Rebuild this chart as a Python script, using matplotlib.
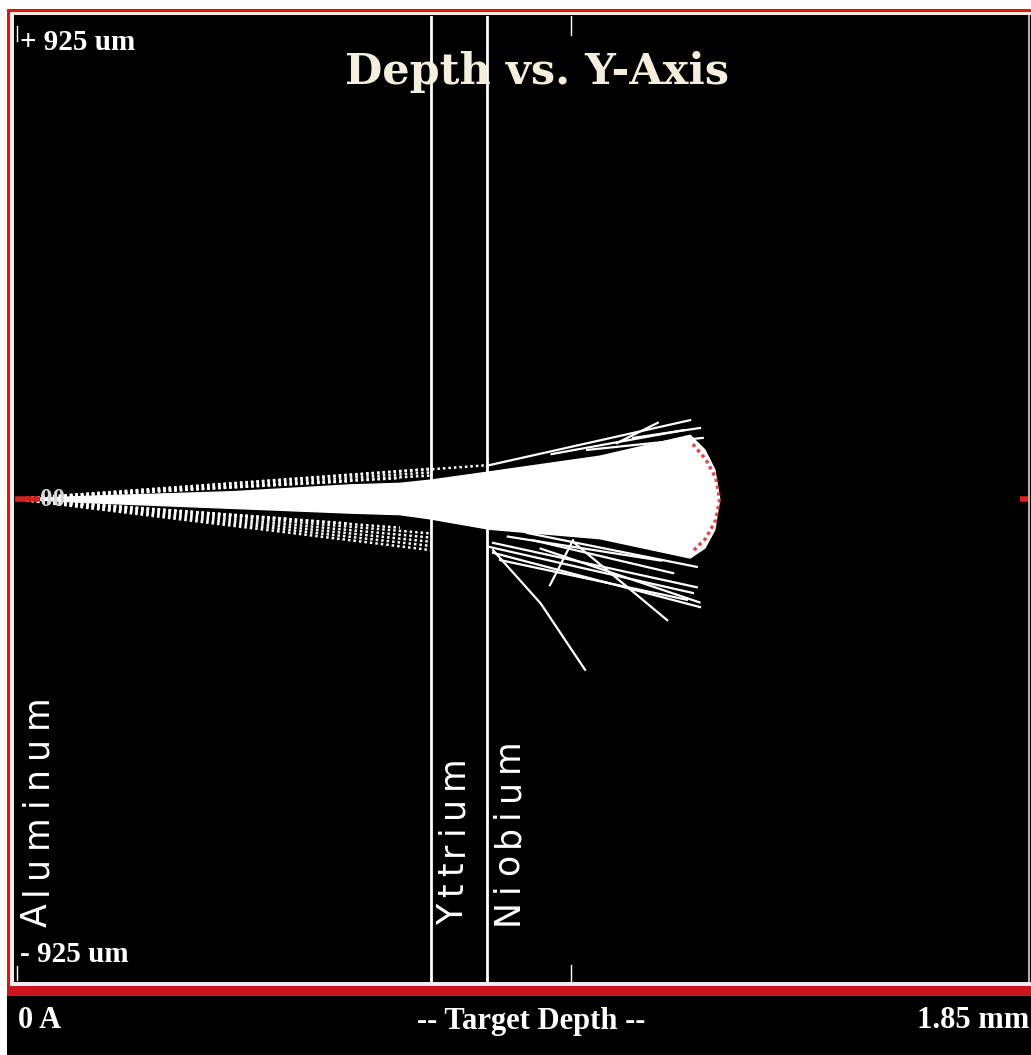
import numpy as np
import matplotlib.pyplot as plt
from matplotlib.patches import Rectangle, Polygon
from matplotlib.font_manager import FontProperties
from matplotlib.textpath import TextToPath

W, H = 1031, 1055

# target depth range (mm) and lateral half-width (um)
depth_max = 1.85
y_half = 925

layer_names = ['Aluminum', 'Yttrium', 'Niobium']
layer_starts = [0.0, 0.760, 0.862]
scale_tick = 1.015

# outline of the dense ion cloud: depth (mm) vs lateral position (um)
cloud_x = [0.0, 0.155, 0.398, 0.612, 0.703, 0.758, 0.867, 1.068, 1.233, 1.260, 1.278, 1.287]
cloud_top = [0, 6, 14, 27, 30, 36, 52, 82, 122, 94, 56, 0]
cloud_bot = [0, -8, -18, -27, -30, -38, -58, -76, -113, -94, -59, 0]

# dotted fringe tracks fanning out from the entry point (end depth, end y)
fringe_x = [0.867, 0.760, 0.760, 0.760, 0.703, 0.612,
            0.760, 0.760, 0.760, 0.760, 0.760, 0.703, 0.612, 0.500]
fringe_y = [65, 58, 51, 45, 40, 34,
            -98, -90, -82, -74, -66, -55, -47, -38]

# single scattered tracks, each a list of (depth mm, y um) points
stray_tracks = [
    [(0.867, 65), (1.233, 151)],
    [(1.099, 107), (1.174, 146)],
    [(1.129, 117), (1.251, 136)],
    [(1.045, 94), (1.256, 117)],
    [(0.980, 86), (1.222, 132)],
    [(0.873, -98), (0.960, -200), (1.041, -327)],
    [(0.977, -165), (1.019, -79)],
    [(1.019, -82), (1.191, -232)],
    [(0.873, -84), (1.245, -169)],
    [(0.873, -103), (1.251, -207)],
    [(0.886, -117), (1.227, -193)],
    [(0.935, -65), (1.245, -130)],
    [(0.946, -79), (1.202, -142)],
    [(0.867, -92), (1.238, -180)],
    [(0.900, -72), (1.180, -118)],
    [(0.960, -95), (1.250, -198)],
]

# reddish stopping edge around the cloud tip
tip_x = [1.238, 1.262, 1.280, 1.287, 1.280, 1.262, 1.238]
tip_y = [105, 75, 40, 0, -40, -75, -100]


def px_rect(fig, x0, y0, x1, y1, color):
    fig.add_artist(Rectangle((x0 / W, 1 - y1 / H), (x1 - x0) / W, (y1 - y0) / H,
                             transform=fig.transFigure, color=color, lw=0, zorder=0))


def spaced_vertical(fig, x_px, y_px, text, size, gap):
    # letters stacked bottom-to-top with extra spacing between them
    fp = FontProperties(family='DejaVu Sans', size=size)
    t2p = TextToPath()
    y = y_px
    for ch in text:
        w = t2p.get_text_width_height_descent(ch, fp, ismath=False)[0] * 100 / 72
        fig.text(x_px / W, 1 - (y - w / 2) / H, ch, rotation=90, ha='center', va='center',
                 color='white', fontproperties=fp, zorder=5)
        y -= w + gap


fig = plt.figure(figsize=(W / 100, H / 100), dpi=100, facecolor='white')

# black panel with red and white borders
px_rect(fig, 7, 9, W, H, 'black')
px_rect(fig, 7, 9, W, 12, '#e01414')
px_rect(fig, 7, 9, 10, 996, '#e01414')
px_rect(fig, 10, 12, W, 15, '#f4ecec')
px_rect(fig, 10, 12, 14, 986, '#f4ecec')
px_rect(fig, 14, 982, W, 986, '#f4ecec')
px_rect(fig, 7, 986, W, 996, '#c8161c')
px_rect(fig, 1028, 15, 1030, 982, '#b0b0b0')

ax = fig.add_axes([15 / W, 1 - 982 / H, 1013 / W, 966 / H])
ax.set_zorder(2)
ax.set_facecolor('black')
ax.set_xlim(0, depth_max)
ax.set_ylim(-y_half, y_half)
ax.set_xticks([])
ax.set_yticks([])
for s in ax.spines.values():
    s.set_visible(False)

# layer boundaries and scale ticks
for x in layer_starts[1:]:
    ax.axvline(x, color='white', lw=2)
ax.axvline(scale_tick, ymin=0.98, ymax=1, color='white', lw=1)
ax.axvline(scale_tick, ymin=0, ymax=0.018, color='white', lw=1)
ax.axvline(0.004, ymin=0.974, ymax=0.99, color='white', lw=1)
ax.axvline(0.004, ymin=0.002, ymax=0.017, color='white', lw=1)

# dotted fringe of the ion fan
for xe, ye in zip(fringe_x, fringe_y):
    ax.plot([0, xe], [0, ye], color='white', lw=1.8, ls=(0, (1, 1.2)))

# dense core of the cloud
outline = list(zip(cloud_x, cloud_top)) + list(zip(cloud_x[::-1], cloud_bot[::-1]))
ax.add_patch(Polygon(outline, closed=True, fc='white', ec='white', lw=1))

for tr in stray_tracks:
    xs, ys = zip(*tr)
    ax.plot(xs, ys, color='white', lw=1.6)

ax.plot(tip_x, tip_y, color='#d0202a', lw=2.5, ls=(0, (1, 1)), alpha=0.8)

# centre-line markers
ax.plot([0, 0.045], [0, 0], color='#d02020', lw=4, solid_capstyle='butt')
ax.plot([1.835, depth_max], [0, 0], color='#e02020', lw=4, solid_capstyle='butt')
ax.text(0.046, 0, '00', color='#d8d8d8', fontsize=18, family='Liberation Serif',
        fontweight='bold', va='center', ha='left')

serif = dict(family='Liberation Serif', fontweight='bold', color='white')
fig.text(20 / W, 1 - 43 / H, '+ 925 um', fontsize=21, va='center', ha='left', zorder=5, **serif)
fig.text(20 / W, 1 - 955 / H, '- 925 um', fontsize=21, va='center', ha='left', zorder=5, **serif)
fig.text(537 / W, 1 - 72 / H, 'Depth vs. Y-Axis', fontsize=31, va='center', ha='center',
         family='DejaVu Serif', fontweight='bold', color='#f3efdc', zorder=5)

fig.text(18 / W, 1 - 1021 / H, '0 A', fontsize=22, va='center', ha='left', **serif)
fig.text(531 / W, 1 - 1021 / H, '-- Target Depth --', fontsize=22, va='center', ha='center', **serif)
fig.text(1029 / W, 1 - 1021 / H, '1.85 mm', fontsize=22, va='center', ha='right', **serif)

spaced_vertical(fig, 37, 927, layer_names[0], 25, 8)
spaced_vertical(fig, 453, 925, layer_names[1], 25, 7)
spaced_vertical(fig, 508, 925, layer_names[2], 25, 7)

fig.savefig('out.png', dpi=100, facecolor='white')
